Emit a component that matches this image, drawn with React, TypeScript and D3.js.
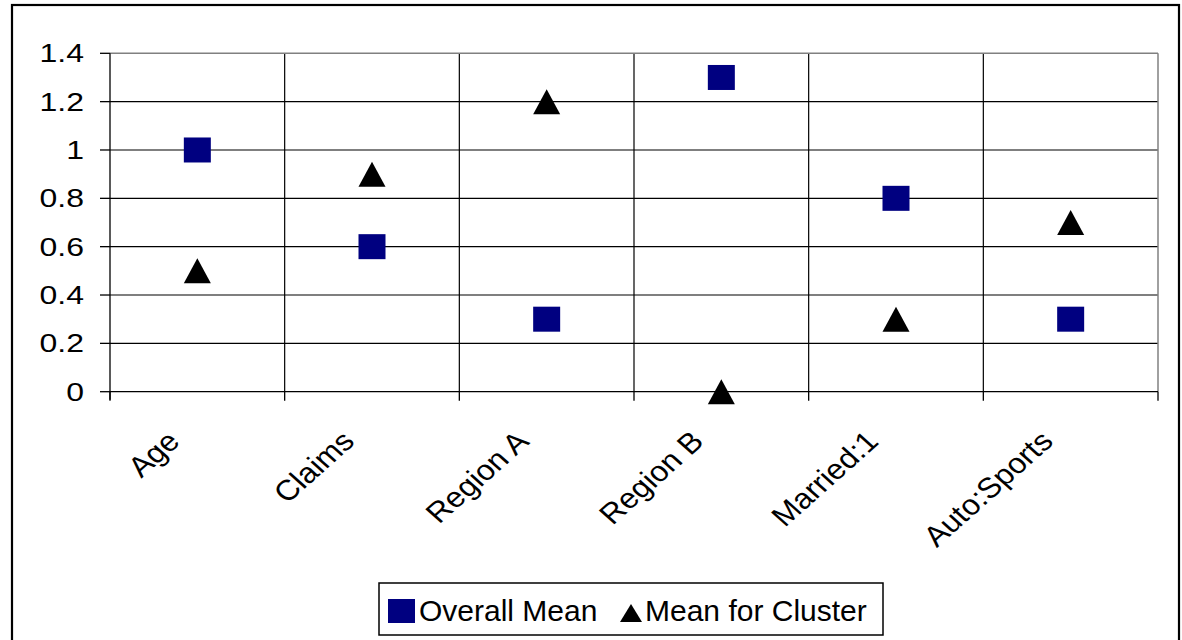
import React from "react";
import * as d3 from "d3";

const categories = ["Age", "Claims", "Region A", "Region B", "Married:1", "Auto:Sports"];
const overallMean = [1.0, 0.6, 0.3, 1.3, 0.8, 0.3];
const clusterMean = [0.5, 0.9, 1.2, 0.0, 0.3, 0.7];
const yTicks = [0, 0.2, 0.4, 0.6, 0.8, 1, 1.2, 1.4];
const seriesNames = ["Overall Mean", "Mean for Cluster"];

const W = 1182;
const H = 640;
const FONT = "'Liberation Sans', Arial, sans-serif";

export default function App() {
  const left = 110, right = 1158, top = 53.3, bottom = 391.7;
  const x = d3.scaleBand<string>().domain(categories).range([left, right]).padding(0);
  const y = d3.scaleLinear().domain([0, 1.4]).range([bottom, top]);
  const bw = x.bandwidth();
  const sq = { w: 27, h: 25 };
  const tri = { w: 27, h: 25 };
  const triPath = (cx: number, cy: number) =>
    `M${cx - tri.w / 2},${cy + tri.h / 2}L${cx + tri.w / 2},${cy + tri.h / 2}L${cx},${cy - tri.h / 2}Z`;

  const bounds = categories.map((c) => x(c) as number).concat([right]);

  return (
    <svg width={W} height={H} style={{ position: "absolute", left: 0, top: 0, background: "#fff" }}>
      {/* chart border */}
      <rect x={12} y={5} width={1167} height={650} fill="#fff" stroke="#000" strokeWidth={2.2} />

      {/* horizontal gridlines */}
      {yTicks.filter((t) => t > 0 && t < 1.4).map((t) => (
        <line key={"h" + t} x1={left} x2={right} y1={y(t)} y2={y(t)} stroke="#000" strokeWidth={1.2} />
      ))}
      {/* vertical gridlines */}
      {bounds.slice(1, -1).map((bx, i) => (
        <line key={"v" + i} x1={bx} x2={bx} y1={top} y2={bottom} stroke="#000" strokeWidth={1.2} />
      ))}
      {/* plot area border (gray top & right) */}
      <line x1={left} x2={right} y1={top} y2={top} stroke="#808080" strokeWidth={1.5} />
      <line x1={right} x2={right} y1={top} y2={bottom} stroke="#808080" strokeWidth={1.5} />

      {/* y axis */}
      <line x1={left} x2={left} y1={top} y2={bottom + 8} stroke="#000" strokeWidth={1.3} />
      {yTicks.map((t) => (
        <g key={"yt" + t}>
          <line x1={left - 10} x2={left} y1={y(t)} y2={y(t)} stroke="#000" strokeWidth={1.3} />
          <text x={0} y={0} dy="0.36em" textAnchor="end" fontFamily={FONT} fontSize={25} fill="#000"
            transform={`translate(84,${y(t)}) scale(1.28,1)`}>
            {d3.format("~g")(t)}
          </text>
        </g>
      ))}

      {/* x axis */}
      <line x1={left} x2={right} y1={bottom} y2={bottom} stroke="#000" strokeWidth={1.3} />
      {bounds.map((bx, i) => (
        <line key={"xt" + i} x1={bx} x2={bx} y1={bottom} y2={bottom + 9} stroke="#000" strokeWidth={1.3} />
      ))}
      {categories.map((c) => {
        const cx = (x(c) as number) + bw / 2 - 16;
        const cy = 443;
        return (
          <text key={"xl" + c} x={0} y={0} textAnchor="end"
            transform={`translate(${cx},${cy}) scale(1.12,1) rotate(-45)`}
            fontFamily={FONT} fontSize={28.5} fill="#000">
            {c}
          </text>
        );
      })}

      {/* markers */}
      {categories.map((c, i) => {
        const cx = (x(c) as number) + bw / 2;
        return (
          <g key={"m" + c}>
            <rect x={cx - sq.w / 2} y={y(overallMean[i]) - sq.h / 2} width={sq.w} height={sq.h} fill="#000080" />
            <path d={triPath(cx, y(clusterMean[i]))} fill="#000" />
          </g>
        );
      })}

      {/* legend */}
      <rect x={379} y={583} width={504} height={52} fill="#fff" stroke="#000" strokeWidth={1.5} />
      <rect x={388} y={599} width={27} height={24} fill="#000080" />
      <text x={419} y={620.5} fontFamily={FONT} fontSize={30} fill="#000">{seriesNames[0]}</text>
      <path d={`M620,622L642,622L631,604Z`} fill="#000" />
      <text x={645} y={620.5} fontFamily={FONT} fontSize={30} fill="#000">{seriesNames[1]}</text>
    </svg>
  );
}
